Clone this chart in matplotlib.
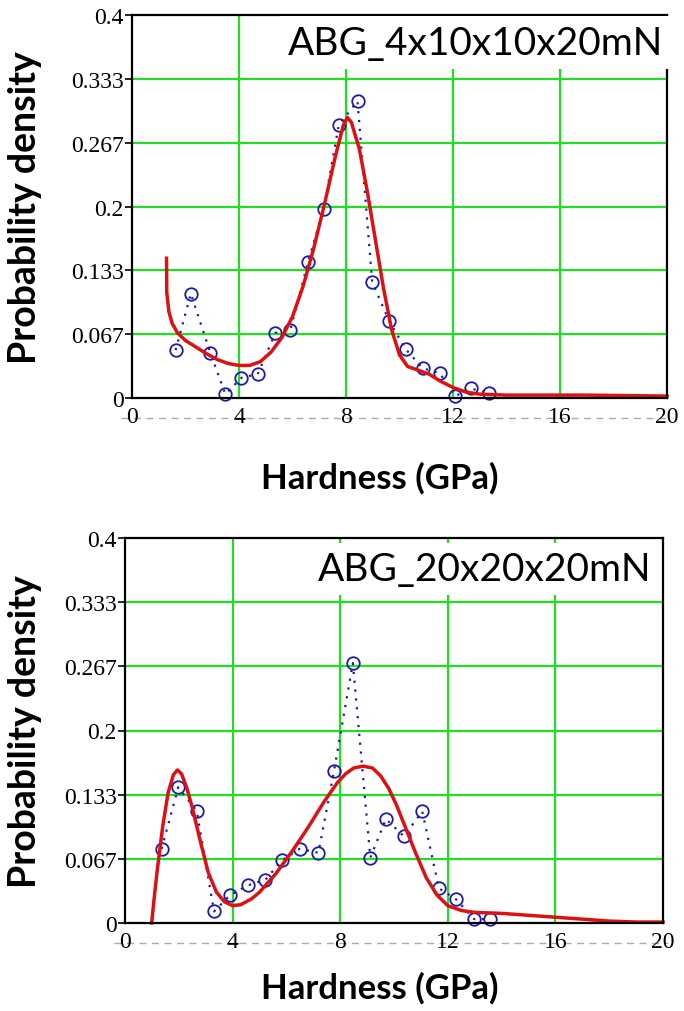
import matplotlib
matplotlib.use('Agg')
import matplotlib.pyplot as plt

# ---- data ----
# top panel: ABG_4x10x10x20mN
top_pts_x = [1.63, 2.20, 2.93, 3.49, 4.09, 4.70, 5.36, 5.92, 6.58, 7.16,
             7.73, 8.43, 8.98, 9.62, 10.23, 10.87, 11.50, 12.09, 12.66, 13.34]
top_pts_y = [0.050, 0.109, 0.047, 0.004, 0.021, 0.025, 0.068, 0.071, 0.142, 0.197,
             0.285, 0.310, 0.121, 0.080, 0.051, 0.031, 0.026, 0.002, 0.010, 0.005]
top_fit_x = [1.29, 1.30, 1.38, 1.5, 1.7, 2.0, 2.4, 2.8, 3.2, 3.6, 4.0, 4.4, 4.8,
             5.2, 5.6, 6.0, 6.4, 6.8, 7.2, 7.6, 7.9, 8.05, 8.2, 8.5, 8.8, 9.1,
             9.4, 9.7, 10.0, 10.3, 10.7, 11.1, 11.5, 12.0, 12.5, 13.0, 14.0, 17.0, 20.0]
top_fit_y = [0.146, 0.110, 0.090, 0.078, 0.068, 0.060, 0.053, 0.046, 0.040, 0.036,
             0.034, 0.034, 0.038, 0.048, 0.063, 0.085, 0.117, 0.157, 0.203, 0.252,
             0.285, 0.293, 0.288, 0.260, 0.215, 0.165, 0.115, 0.072, 0.045, 0.033,
             0.029, 0.025, 0.018, 0.011, 0.006, 0.004, 0.003, 0.003, 0.002]

# bottom panel: ABG_20x20x20mN
bot_pts_x = [1.36, 1.98, 2.67, 3.31, 3.91, 4.56, 5.22, 5.84, 6.49, 7.19,
             7.77, 8.47, 9.12, 9.70, 10.37, 11.05, 11.67, 12.29, 12.98, 13.57]
bot_pts_y = [0.077, 0.141, 0.116, 0.012, 0.029, 0.039, 0.045, 0.065, 0.077, 0.073,
             0.158, 0.270, 0.068, 0.108, 0.090, 0.116, 0.036, 0.025, 0.004, 0.004]
bot_fit_x = [0.99, 1.1, 1.2, 1.4, 1.6, 1.8, 1.95, 2.1, 2.3, 2.5, 2.8, 3.1, 3.4,
             3.7, 4.0, 4.3, 4.7, 5.0, 5.6, 6.2, 6.8, 7.4, 7.9, 8.2, 8.5, 8.85,
             9.2, 9.5, 9.8, 10.1, 10.4, 10.8, 11.2, 11.6, 12.0, 12.5, 13.0, 14.0,
             15.0, 16.0, 17.0, 18.0, 19.0, 20.0]
bot_fit_y = [0.000, 0.030, 0.055, 0.100, 0.135, 0.154, 0.159, 0.155, 0.140, 0.120,
             0.085, 0.052, 0.032, 0.022, 0.018, 0.019, 0.025, 0.032, 0.051, 0.074,
             0.099, 0.126, 0.146, 0.155, 0.161, 0.163, 0.161, 0.153, 0.140, 0.122,
             0.101, 0.073, 0.047, 0.029, 0.018, 0.013, 0.011, 0.010, 0.008, 0.006,
             0.004, 0.002, 0.001, 0.001]

titles = ['ABG_4x10x10x20mN', 'ABG_20x20x20mN']
xticks = [0, 4, 8, 12, 16, 20]
yticks = [0, 0.0667, 0.1333, 0.2, 0.2667, 0.3333, 0.4]
ytick_labels = ['0', '0.067', '0.133', '0.2', '0.267', '0.333', '0.4']

green = '#22dd22'
red = '#dd1111'
blue = '#1c1ca8'

fig = plt.figure(figsize=(6.84, 10.12), dpi=100)
ax_top = fig.add_axes([132/684, 1-399/1012, 535/684, 383/1012])
ax_bot = fig.add_axes([125/684, 1-924/1012, 538/684, 385/1012])

panels = [
    (ax_top, top_pts_x, top_pts_y, top_fit_x, top_fit_y, titles[0]),
    (ax_bot, bot_pts_x, bot_pts_y, bot_fit_x, bot_fit_y, titles[1]),
]

for ax, px, py, fx, fy, ttl in panels:
    ax.set_xlim(0, 20)
    ax.set_ylim(0, 0.4)

    # green grid
    for gx in xticks[1:-1]:
        ax.axvline(gx, color=green, lw=1.6, zorder=1)
    for gy in yticks[1:-1]:
        ax.axhline(gy, color=green, lw=1.6, zorder=1)

    ax.plot(px, py, linestyle=(0, (1, 3)), color=blue, lw=1.6, marker='o',
            markersize=9, markerfacecolor='none', markeredgecolor=blue,
            markeredgewidth=1.3, zorder=3, clip_on=False)
    ax.plot(fx, fy, color=red, lw=2.5, zorder=4, clip_on=False)

    ax.set_yticks(yticks)
    ax.set_yticklabels(ytick_labels, family='Liberation Serif', fontsize=17)
    ax.set_xticks(xticks)
    ax.set_xticklabels([str(t) for t in xticks], family='Liberation Serif', fontsize=17)
    ax.tick_params(axis='y', direction='out', length=5, width=1.2, pad=1)
    ax.tick_params(axis='x', length=0, pad=6)

    # dashed line through the x tick labels, Mathcad style
    ax.plot([-0.4, 20.2], [-0.052, -0.052], transform=ax.get_xaxis_transform(),
            color='#aaaaaa', lw=1.0, ls=(0, (5, 4)), clip_on=False, zorder=0)

    for s in ax.spines.values():
        s.set_linewidth(1.6)
        s.set_color('black')
        s.set_zorder(5)

    ax.set_xlabel('Hardness (GPa)', family='Lato', fontweight='bold', fontsize=25, va='top')
    ax.set_ylabel('Probability density', family='Lato', fontweight='bold', fontsize=27)

ax_top.text(0.993, 0.928, titles[0], transform=ax_top.transAxes, ha='right', va='center',
            family='Lato', fontsize=28, zorder=6,
            bbox=dict(facecolor='white', edgecolor='none', pad=6))
ax_bot.text(0.978, 0.919, titles[1], transform=ax_bot.transAxes, ha='right', va='center',
            family='Lato', fontsize=28, zorder=6,
            bbox=dict(facecolor='white', edgecolor='none', pad=6))

ax_top.xaxis.set_label_coords(0.463, -0.165)
ax_bot.xaxis.set_label_coords(0.474, -0.125)
ax_top.yaxis.set_label_coords(-0.168, 0.5)
ax_bot.yaxis.set_label_coords(-0.154, 0.5)

fig.savefig('out.png', dpi=100, facecolor='white')
